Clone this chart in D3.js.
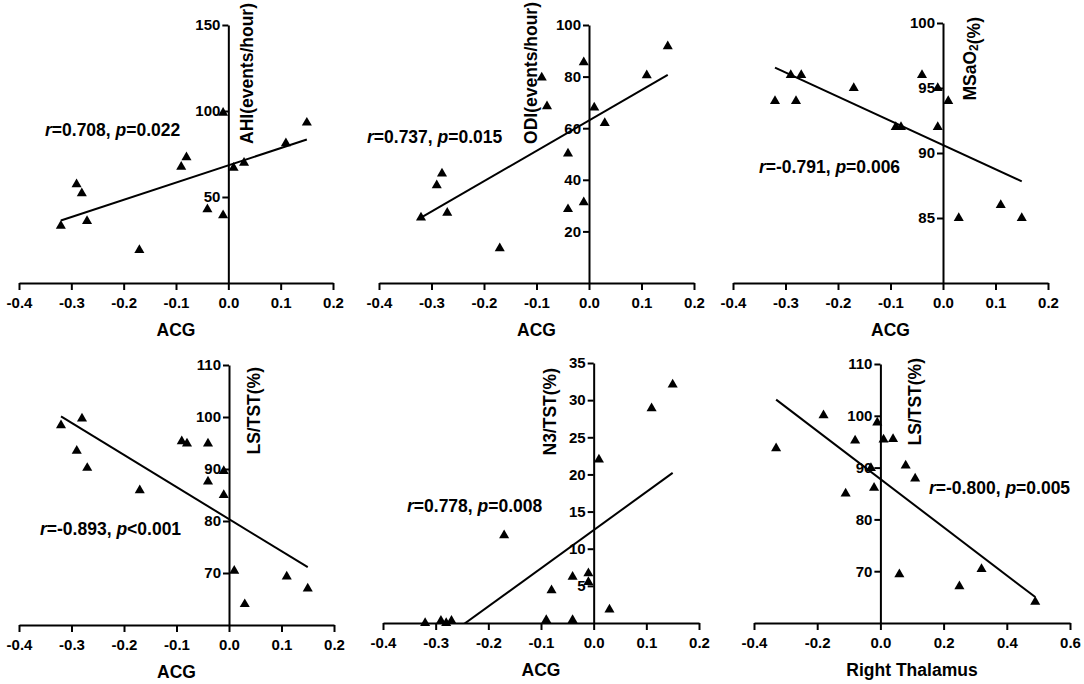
<!DOCTYPE html>
<html>
<head>
<meta charset="utf-8">
<script src="https://cdn.jsdelivr.net/npm/d3@7"></script>
<style>
  body { margin: 0; background: #fff; }
  svg text { font-family: "Liberation Sans", Arial, sans-serif; font-weight: bold; fill: #000; }
</style>
</head>
<body>
<div id="chart"></div>
<script>
// ACG vs AHI
const ahiACG = [-0.32, -0.29, -0.28, -0.27, -0.17, -0.09, -0.08, -0.04, -0.01, -0.01, 0.01, 0.03, 0.11, 0.15];
const ahiValues = [33.3, 57.4, 52.1, 36.0, 19.2, 67.6, 73.1, 42.8, 99.0, 39.4, 67.0, 69.9, 81.2, 93.2];

// ACG vs ODI
const odiACG = [-0.32, -0.29, -0.28, -0.27, -0.17, -0.09, -0.08, -0.04, -0.04, -0.01, -0.01, 0.01, 0.03, 0.11, 0.15];
const odiValues = [25.4, 37.9, 42.4, 27.2, 13.4, 79.6, 68.5, 50.2, 28.6, 85.5, 31.3, 68.0, 62.0, 80.5, 91.7];

// ACG vs MSaO2
const msaACG = [-0.32, -0.29, -0.28, -0.27, -0.17, -0.09, -0.08, -0.04, -0.01, -0.01, 0.01, 0.03, 0.11, 0.15];
const msaValues = [94, 96, 94, 96, 95, 92, 92, 96, 95, 92, 94, 85, 86, 85];

// ACG vs LS/TST
const lsACG = [-0.32, -0.29, -0.28, -0.27, -0.17, -0.09, -0.08, -0.04, -0.04, -0.01, -0.01, 0.01, 0.03, 0.11, 0.15];
const lsValues = [98.4, 93.5, 99.7, 90.2, 85.9, 95.3, 94.9, 94.9, 87.6, 89.6, 85.0, 70.4, 64.0, 69.3, 67.0];

// ACG vs N3/TST
const n3ACG = [-0.32, -0.29, -0.28, -0.27, -0.17, -0.09, -0.08, -0.04, -0.04, -0.01, -0.01, 0.01, 0.03, 0.11, 0.15];
const n3Values = [0, 0.3, 0, 0.3, 11.8, 0.4, 4.4, 6.2, 0.4, 6.7, 5.5, 22.0, 1.8, 28.9, 32.1];

// Right thalamus vs LS/TST
const thalamusX = [-0.33, -0.18, -0.11, -0.08, -0.03, -0.02, -0.01, 0.01, 0.04, 0.06, 0.08, 0.11, 0.25, 0.32, 0.49];
const thalamusLS = [93.7, 100.1, 85.0, 95.2, 89.9, 86.1, 98.7, 95.4, 95.5, 69.4, 90.4, 87.9, 67.1, 70.4, 64.1];

// axes
const xDomains = [[-0.4, 0.2], [-0.4, 0.2], [-0.4, 0.2], [-0.4, 0.2], [-0.4, 0.2], [-0.4, 0.6]];
const yDomains = [[0, 150], [0, 100], [80, 100], [60, 110], [0, 35], [60, 110]];
const xTicks = [
  [-0.4, -0.3, -0.2, -0.1, 0, 0.1, 0.2],
  [-0.4, -0.3, -0.2, -0.1, 0, 0.1, 0.2],
  [-0.4, -0.3, -0.2, -0.1, 0, 0.1, 0.2],
  [-0.4, -0.3, -0.2, -0.1, 0, 0.1, 0.2],
  [-0.4, -0.3, -0.2, -0.1, 0, 0.1, 0.2],
  [-0.4, -0.2, 0, 0.2, 0.4, 0.6]
];
const yTicks = [
  [50, 100, 150],
  [20, 40, 60, 80, 100],
  [85, 90, 95, 100],
  [70, 80, 90, 100, 110],
  [5, 10, 15, 20, 25, 30, 35],
  [70, 80, 90, 100, 110]
];
const xTitles = ["ACG", "ACG", "ACG", "ACG", "ACG", "Right Thalamus"];
const yTitles = ["AHI(events/hour)", "ODI(events/hour)", "MSaO<sub>2</sub>(%)", "LS/TST(%)", "N3/TST(%)", "LS/TST(%)"];
const rValues = ["0.708", "0.737", "-0.791", "-0.893", "0.778", "-0.800"];
const pValues = ["=0.022", "=0.015", "=0.006", "<0.001", "=0.008", "=0.005"];

const series = [
  [ahiACG, ahiValues], [odiACG, odiValues], [msaACG, msaValues],
  [lsACG, lsValues], [n3ACG, n3Values], [thalamusX, thalamusLS]
];

// pixel frame of each panel, y title offset from the y axis, stat text position
const layout = [
  { x: [19, 333], y: [283, 25], titleDx: 19, titleTop: 3, stat: [45, 130] },
  { x: [379, 694], y: [283, 25], titleDx: -58, titleTop: 2, stat: [367, 137] },
  { x: [733, 1048], y: [283, 23], titleDx: 27, titleTop: 17, stat: [759, 167] },
  { x: [19, 334], y: [625, 365], titleDx: 25, titleTop: 367, stat: [40, 529] },
  { x: [383, 699], y: [623, 363], titleDx: -44, titleTop: 368, stat: [407, 506] },
  { x: [754, 1070], y: [623, 364], titleDx: 35, titleTop: 358, stat: [929, 488] }
];

const width = 1084;
const height = 684;
const tickFont = 15;
const titleFont = 17.5;

const svg = d3.select("#chart")
  .append("svg")
  .attr("width", width)
  .attr("height", height)
  .attr("viewBox", [0, 0, width, height]);

const triangle = d3.symbol().type(d3.symbolTriangle).size(44);

// least squares line through the points
function fit(xs, ys) {
  const mx = d3.mean(xs), my = d3.mean(ys);
  let sxy = 0, sxx = 0;
  xs.forEach((v, i) => { sxy += (v - mx) * (ys[i] - my); sxx += (v - mx) * (v - mx); });
  const slope = sxy / sxx;
  return v => my + slope * (v - mx);
}

function styleAxis(a) {
  a.attr("font-size", tickFont).attr("font-family", null);
  a.selectAll("path, line").attr("stroke", "#000").attr("stroke-width", 2);
  a.selectAll("text").style("font-size", tickFont + "px");
}

layout.forEach((lay, i) => {
  const [xs, ys] = series[i];
  const x = d3.scaleLinear().domain(xDomains[i]).range(lay.x);
  const y = d3.scaleLinear().domain(yDomains[i]).range(lay.y);
  const g = svg.append("g");

  // clip for the regression line
  g.append("clipPath")
    .attr("id", `clip${i}`)
    .append("rect")
    .attr("x", lay.x[0])
    .attr("y", lay.y[1])
    .attr("width", lay.x[1] - lay.x[0])
    .attr("height", lay.y[0] - lay.y[1]);

  // x axis
  g.append("g")
    .attr("transform", `translate(0,${y(yDomains[i][0])})`)
    .call(d3.axisBottom(x).tickValues(xTicks[i]).tickSize(7).tickPadding(7)
      .tickSizeOuter(0).tickFormat(d => d.toFixed(1)))
    .call(styleAxis);

  // y axis sits at x = 0
  const y0 = x(0);
  g.append("g")
    .attr("transform", `translate(${y0},0)`)
    .call(d3.axisLeft(y).tickValues(yTicks[i]).tickSize(6).tickPadding(2).tickSizeOuter(0))
    .call(styleAxis);

  // x title
  g.append("text")
    .attr("x", (lay.x[0] + lay.x[1]) / 2)
    .attr("y", y(yDomains[i][0]) + 53)
    .attr("text-anchor", "middle")
    .style("font-size", titleFont + "px")
    .text(xTitles[i]);

  // y title
  const yt = g.append("text")
    .attr("transform", `translate(${y0 + lay.titleDx},${lay.titleTop}) rotate(-90)`)
    .attr("text-anchor", "end")
    .attr("dominant-baseline", "central")
    .style("font-size", titleFont + "px");
  yTitles[i].split(/(<sub>.*?<\/sub>)/).filter(s => s).forEach(s => {
    if (s.startsWith("<sub>")) {
      yt.append("tspan").attr("dy", "0.3em").style("font-size", "12px").text(s.replace(/<\/?sub>/g, ""));
      yt.append("tspan").attr("dy", "-0.3em").text("");
    } else {
      yt.append("tspan").text(s);
    }
  });

  // regression line
  const f = fit(xs, ys);
  const [xmin, xmax] = d3.extent(xs);
  g.append("line")
    .attr("clip-path", `url(#clip${i})`)
    .attr("x1", x(xmin)).attr("y1", y(f(xmin)))
    .attr("x2", x(xmax)).attr("y2", y(f(xmax)))
    .attr("stroke", "#000")
    .attr("stroke-width", 2);

  // points
  g.append("g")
    .selectAll("path")
    .data(xs.map((v, j) => [v, ys[j]]))
    .join("path")
    .attr("d", triangle)
    .attr("transform", d => `translate(${x(d[0])},${y(d[1])})`)
    .attr("fill", "#000");

  // correlation text
  const st = g.append("text")
    .attr("x", lay.stat[0])
    .attr("y", lay.stat[1])
    .attr("dominant-baseline", "central")
    .style("font-size", titleFont + "px");
  st.append("tspan").attr("font-style", "italic").text("r");
  st.append("tspan").text(`=${rValues[i]}, `);
  st.append("tspan").attr("font-style", "italic").text("p");
  st.append("tspan").text(pValues[i]);
});
</script>
</body>
</html>
